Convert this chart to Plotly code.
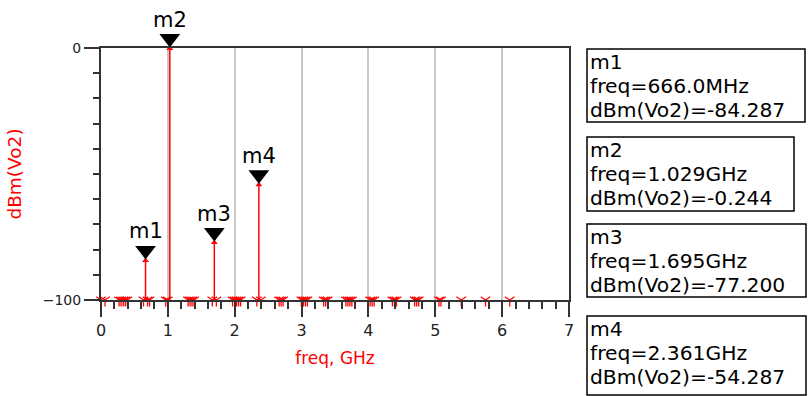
import plotly.graph_objects as go

# ---------------- data ----------------
# spectral lines: frequency (GHz) and level dBm(Vo2); values below -100 sit under the axis floor
freq_ghz = [0.000, 0.060,
            0.270, 0.300, 0.333, 0.363, 0.393,
            0.636, 0.666, 0.696, 0.726,
            0.969, 0.999, 1.029,
            1.302, 1.332, 1.362, 1.392,
            1.665, 1.695, 1.725,
            1.968, 1.998, 2.028, 2.058, 2.088,
            2.331, 2.361, 2.391,
            2.664, 2.694, 2.724,
            2.997, 3.027, 3.057, 3.087,
            3.330, 3.360, 3.390,
            3.663, 3.693, 3.723, 3.753,
            4.026, 4.056, 4.086,
            4.359, 4.389, 4.419,
            4.692, 4.722, 4.752,
            5.055, 5.085,
            5.388, 5.751, 6.114]
dbm_vo2 = [-140, -150,
           -135, -130, -128, -132, -138,
           -145, -84.287, -150, -142,
           -140, -148, -0.244,
           -130, -126, -134, -129,
           -146, -77.200, -150,
           -131, -127, -133, -125, -136,
           -144, -54.287, -149,
           -141, -147, -139,
           -128, -124, -135, -130,
           -143, -150, -138,
           -129, -127, -133, -131,
           -142, -139, -148,
           -145, -140, -150,
           -141, -137, -149,
           -146, -144,
           -150, -152, -155]

marker_names = ["m1", "m2", "m3", "m4"]
marker_idx = [8, 13, 19, 27]          # indices into the spectral arrays
readout_freq = ["666.0MHz", "1.029GHz", "1.695GHz", "2.361GHz"]
readout_val = ["-84.287", "-0.244", "-77.200", "-54.287"]

x_tick_vals = [0, 1, 2, 3, 4, 5, 6, 7]
y_tick_vals = [-100, 0]
x_range = [0, 7]
y_range = [-100, 0]

# ---------------- layout constants (pixels) ----------------
W, H = 809, 396
L, R, T, B = 101, 569, 48, 300
RED = "#ff0000"
AXC = "#333333"
FONT = "DejaVu Sans, Liberation Sans, Arial"


def px_x(px):
    return (px - L) / (R - L)


def px_y(py):
    return (B - py) / (B - T)


fig = go.Figure()

# spectral lines (from floor up to value)
lx, ly = [], []
for f, v in zip(freq_ghz, dbm_vo2):
    if v > y_range[0]:
        lx += [f, f, None]
        ly += [y_range[0], v, None]
fig.add_trace(go.Scatter(x=lx, y=ly, mode="lines",
                         line=dict(color=RED, width=1.5),
                         hoverinfo="skip", showlegend=False))

# top-of-line markers
vis_f = [f for f, v in zip(freq_ghz, dbm_vo2) if v > y_range[0]]
vis_v = [v for v in dbm_vo2 if v > y_range[0]]
fig.add_trace(go.Scatter(x=vis_f, y=vis_v, mode="markers",
                         marker=dict(symbol="triangle-up", size=6, color=RED),
                         cliponaxis=False, showlegend=False))

# clipped points at the floor
fl_f = [f for f, v in zip(freq_ghz, dbm_vo2) if v <= y_range[0]]
fl_v = [max(v, y_range[0]) for v in dbm_vo2 if v <= y_range[0]]
fig.add_trace(go.Scatter(x=fl_f, y=fl_v, mode="markers",
                         marker=dict(symbol="y-down-open", size=8, color=RED,
                                     line=dict(color=RED, width=1.3)),
                         cliponaxis=False, showlegend=False))

# marker triangles: pointing down, backed off so the tip touches the data point
mk_f = [freq_ghz[i] for i in marker_idx]
mk_v = [dbm_vo2[i] for i in marker_idx]
fig.add_trace(go.Scatter(x=mk_f, y=mk_v, mode="markers",
                         marker=dict(symbol="triangle-up", angle=180, standoff=10,
                                     size=18, color="black"),
                         cliponaxis=False, showlegend=False))

shapes = []
annotations = []
for name, f, v in zip(marker_names, mk_f, mk_v):
    annotations.append(dict(x=f, y=v, xref="x", yref="y", text=name,
                            showarrow=False, yanchor="middle", xanchor="center",
                            yshift=29,
                            font=dict(family=FONT, size=21, color="black")))

# readout boxes
boxes = [(587, 49, 805, 122), (587, 137, 794, 211), (587, 224, 806, 297), (587, 316, 806, 395)]
RFS = 20.3    # glyph size
LSP = 23.8    # line pitch in pixels
for k, (x0, y0, x1, y1) in enumerate(boxes):
    shapes.append(dict(type="rect", xref="paper", yref="paper",
                       x0=px_x(x0), x1=px_x(x1), y0=px_y(y1), y1=px_y(y0),
                       line=dict(color="black", width=1.5), fillcolor="rgba(0,0,0,0)"))
    lines = [marker_names[k], "freq=" + readout_freq[k], "dBm(Vo2)=" + readout_val[k]]
    for j, s in enumerate(lines):
        base = y0 + 20.5 + LSP * j
        annotations.append(dict(x=px_x(589), y=px_y(base - 0.346 * RFS),
                                xref="paper", yref="paper", text=s,
                                showarrow=False, xanchor="left", yanchor="middle",
                                borderpad=0,
                                font=dict(family=FONT, size=RFS, color="black")))

fig.update_layout(
    width=W, height=H,
    margin=dict(l=L, r=W - R, t=T, b=H - B, pad=0),
    paper_bgcolor="white", plot_bgcolor="white",
    font=dict(family=FONT, size=15, color="#222222"),
    shapes=shapes, annotations=annotations, showlegend=False,
)
fig.update_xaxes(range=x_range, tickvals=x_tick_vals, ticks="outside", ticklen=15,
                 tickwidth=2, tickcolor=AXC, showline=True, linecolor=AXC, linewidth=2,
                 mirror=True, showgrid=True, gridcolor="#c8c8c8", gridwidth=1.5,
                 zeroline=False, tickfont=dict(size=16),
                 minor=dict(dtick=0.2, ticks="outside", ticklen=7, tickwidth=2,
                            tickcolor=AXC, showgrid=False),
                 title=dict(text="freq, GHz", font=dict(size=17, color=RED), standoff=13))
fig.update_yaxes(range=y_range, tickvals=y_tick_vals, ticks="outside", ticklen=15,
                 tickwidth=2, tickcolor=AXC, showline=True, linecolor=AXC, linewidth=2,
                 mirror=True, showgrid=False, zeroline=False, tickfont=dict(size=14),
                 minor=dict(dtick=10, ticks="outside", ticklen=6, tickwidth=2,
                            tickcolor=AXC, showgrid=False),
                 title=dict(text="dBm(Vo2)", font=dict(size=18.5, color=RED), standoff=16))

fig.write_html("out.html")
